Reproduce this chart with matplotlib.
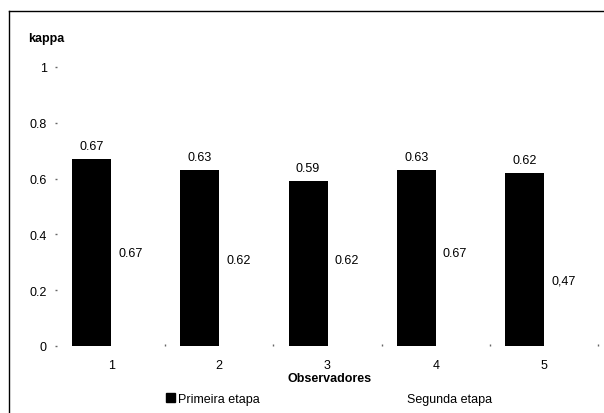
import matplotlib
matplotlib.use("Agg")
import matplotlib.pyplot as plt
from matplotlib.lines import Line2D
from matplotlib.patches import Patch
import numpy as np

categories = ["1", "2", "3", "4", "5"]
primeira = [0.67, 0.63, 0.59, 0.63, 0.62]
segunda = [0.67, 0.62, 0.62, 0.67, 0.47]
primeira_labels = ["0.67", "0.63", "0.59", "0.63", "0.62"]
segunda_labels = ["0.67", "0.62", "0.62", "0.67", "0,47"]
yticks = [0, 0.2, 0.4, 0.6, 0.8, 1]
ytick_labels = ["0", "0.2", "0.4", "0.6", "0.8", "1"]

plt.rcParams['font.family'] = ['Liberation Sans', 'DejaVu Sans']
FS = 9
W, H = 604, 414
fig = plt.figure(figsize=(W/100, H/100), dpi=100)
ax = fig.add_axes([57/W, 1-347/H, (598-57)/W, (347-68)/H])

x = np.arange(len(categories))
bw = 0.36
b1 = ax.bar(x - bw/2, primeira, bw, color='black', label='Primeira etapa')
b2 = ax.bar(x + bw/2, segunda, bw, color='white', edgecolor='none', label='Segunda etapa')

ax.bar_label(b1, labels=primeira_labels, padding=5, fontsize=FS)
ax.bar_label(b2, labels=segunda_labels, label_type='center', fontsize=FS)

ax.set_xlim(-0.5, len(categories) - 0.5)
ax.set_ylim(0, 1)
for s in ax.spines.values():
    s.set_visible(False)
ax.set_yticks(yticks)
ax.set_yticklabels(ytick_labels, fontsize=FS)
ax.tick_params(axis='y', length=1.5, width=1, color='#666666', pad=6)
ax.set_xticks(x)
ax.set_xticklabels(categories, fontsize=FS)
ax.tick_params(axis='x', length=0, pad=9.5)
ax.set_xticks(np.arange(-0.5, len(categories) + 0.5, 1)[1:], minor=True)
ax.tick_params(axis='x', which='minor', length=1.5, width=1, color='#666666', direction='in')

fig.text(28/W, 1-39/H, 'kappa', fontsize=FS, fontweight='bold', va='center', ha='left')
fig.text(330/W, 1-379.5/H, 'Observadores', fontsize=FS, fontweight='bold', va='center', ha='center')

handles = [Patch(facecolor='black', edgecolor='black'), Patch(facecolor='white', edgecolor='none')]
fig.legend(handles, ['Primeira etapa', 'Segunda etapa'], loc='center', bbox_to_anchor=(329/W, 1-400/H),
           ncol=2, frameon=False, fontsize=FS, handlelength=0.7, handleheight=0.7,
           handletextpad=0.25, columnspacing=10.8, borderpad=0.0, borderaxespad=0.0)

fig.add_artist(Line2D([9/W, 1], [1-12/H, 1-12/H], transform=fig.transFigure, color='black', lw=1))
fig.add_artist(Line2D([9/W, 9/W], [0, 1-12/H], transform=fig.transFigure, color='black', lw=1))

fig.savefig('out.png', dpi=100)
